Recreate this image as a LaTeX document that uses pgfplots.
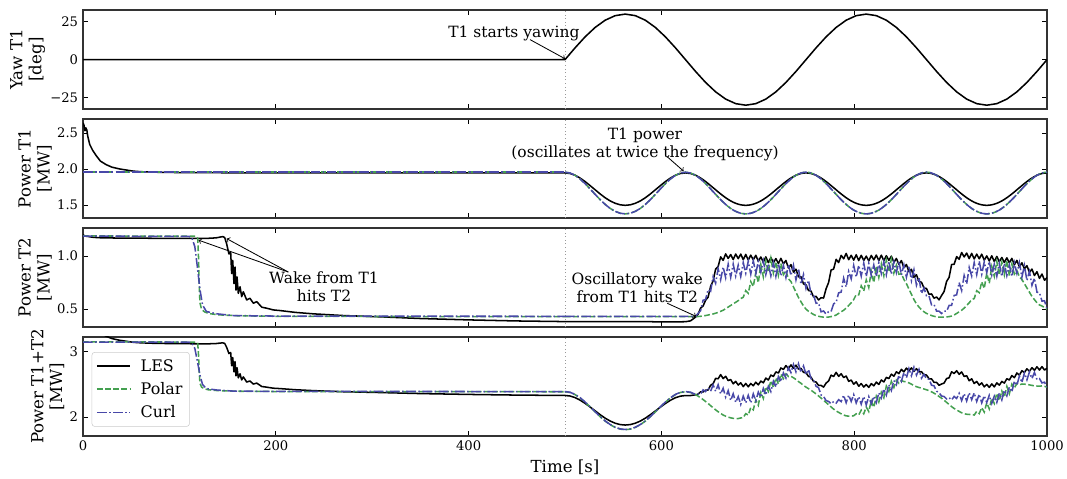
\documentclass[border=0pt]{standalone}
\usepackage{fontspec}
\setmainfont{DejaVu Serif}
\usepackage{pgfplots}
\usepackage{pgfplotstable}
\pgfplotsset{compat=1.18}
\definecolor{cpolar}{RGB}{68,160,80}
\definecolor{ccurl}{RGB}{72,72,168}

\pgfplotstableread{
t yaw
0 0
500 0
510.42 7.765
520.83 15.0
531.25 21.213
541.67 25.981
552.08 28.978
562.50 30
572.92 28.978
583.33 25.981
593.75 21.213
604.17 15.0
614.58 7.765
625.00 0
635.42 -7.765
645.83 -15
656.25 -21.213
666.67 -25.981
677.08 -28.978
687.50 -30
697.92 -28.978
708.33 -25.981
718.75 -21.213
729.17 -15
739.58 -7.765
750.00 0
760.42 7.765
770.83 15
781.25 21.213
791.67 25.981
802.08 28.978
812.50 30
822.92 28.978
833.33 25.981
843.75 21.213
854.17 15
864.58 7.765
875.00 0
885.42 -7.765
895.83 -15
906.25 -21.213
916.67 -25.981
927.08 -28.978
937.50 -30
947.92 -28.978
958.33 -25.981
968.75 -21.213
979.17 -15
989.58 -7.765
1000 0
}\tabYaw

\pgfplotstableread{
t p1 p2
0 2.64 1.200
1 2.61 1.195
2 2.53 1.190
3 2.57 1.188
4 2.54 1.186
5 2.45 1.185
7 2.34 1.182
10 2.26 1.178
14 2.18 1.175
18 2.11 1.173
24 2.06 1.172
30 2.025 1.171
38 2.00 1.170
45 1.985 1.170
52 1.97 1.169
60 1.962 1.169
75 1.955 1.168
100 1.950 1.168
130 1.948 1.168
138 1.948 1.172
142 1.948 1.179
145 1.947 1.184
147 1.947 1.175
149 1.947 1.116
151.4 1.947 1.020
153.2 1.947 1.037
154.2 1.947 0.836
155.3 1.947 0.960
156.6 1.947 0.742
157.7 1.947 0.897
158.7 1.947 0.680
159.8 1.947 0.804
161.1 1.947 0.649
162.9 1.947 0.711
164.6 1.947 0.618
166.3 1.947 0.664
169.8 1.946 0.587
173.2 1.946 0.603
176.7 1.946 0.556
180.2 1.946 0.571
185.4 1.946 0.519
190.5 1.946 0.509
197.4 1.946 0.493
204.4 1.946 0.487
220 1.946 0.470
239 1.946 0.456
270 1.945 0.440
308 1.945 0.428
350 1.945 0.412
400 1.945 0.399
450 1.945 0.389
500 1.945 0.383
}\tabAles

\pgfplotstableread{
t p1 p2
0 1.955 1.190
117 1.955 1.188
119 1.955 1.170
119.8 1.955 1.000
120.5 1.955 0.750
121.3 1.955 0.560
123 1.955 0.500
126 1.955 0.475
130 1.955 0.460
140 1.955 0.447
160 1.955 0.438
200 1.955 0.433
300 1.955 0.431
500 1.955 0.430
}\tabApol

\pgfplotstableread{
t p1 p2
0 1.955 1.188
110 1.955 1.186
113 1.955 1.170
116 1.955 1.090
118.6 1.955 0.900
121.4 1.955 0.680
124 1.955 0.540
128 1.955 0.478
139 1.955 0.456
156 1.955 0.440
200 1.955 0.435
300 1.955 0.434
500 1.955 0.433
}\tabAcrl

\pgfplotstableread{
t p1les p1mod p2les p2pol p2curl
500.00 1.945 1.955 0.383 0.430 0.433
505.21 1.937 1.944 0.383 0.430 0.433
510.42 1.913 1.912 0.383 0.430 0.433
515.63 1.874 1.861 0.383 0.430 0.433
520.83 1.825 1.796 0.383 0.430 0.433
526.04 1.769 1.723 0.383 0.430 0.433
531.25 1.711 1.647 0.383 0.430 0.433
536.46 1.653 1.574 0.382 0.430 0.433
541.67 1.600 1.507 0.382 0.430 0.433
546.88 1.556 1.452 0.382 0.430 0.433
552.08 1.523 1.411 0.382 0.430 0.433
557.29 1.502 1.385 0.382 0.430 0.433
562.50 1.495 1.376 0.382 0.430 0.433
567.71 1.502 1.385 0.382 0.430 0.433
572.92 1.523 1.411 0.382 0.430 0.433
578.13 1.556 1.452 0.382 0.430 0.433
583.33 1.600 1.507 0.382 0.430 0.433
588.54 1.653 1.574 0.382 0.430 0.433
593.75 1.711 1.647 0.381 0.430 0.433
598.96 1.769 1.723 0.381 0.430 0.433
604.17 1.825 1.796 0.381 0.430 0.433
609.38 1.874 1.861 0.381 0.430 0.433
614.58 1.913 1.912 0.381 0.430 0.433
619.79 1.937 1.944 0.381 0.430 0.433
625.00 1.945 1.955 0.382 0.430 0.433
630.21 1.937 1.944 0.390 0.430 0.433
635.42 1.913 1.912 0.425 0.430 0.433
638.02 1.895 1.888 0.452 0.431 0.460
640.63 1.874 1.861 0.510 0.433 0.485
643.23 1.851 1.830 0.530 0.436 0.584
645.83 1.825 1.796 0.584 0.440 0.591
648.44 1.798 1.761 0.613 0.445 0.685
651.04 1.769 1.723 0.715 0.450 0.669
653.65 1.740 1.685 0.768 0.455 0.806
656.25 1.711 1.647 0.878 0.462 0.744
658.85 1.681 1.610 0.902 0.470 0.882
661.46 1.653 1.574 0.993 0.480 0.777
664.06 1.626 1.540 0.960 0.490 0.898
666.67 1.600 1.507 1.021 0.505 0.796
669.27 1.577 1.478 0.978 0.520 0.924
671.88 1.556 1.452 1.015 0.535 0.800
674.48 1.538 1.429 0.968 0.550 0.925
677.08 1.523 1.411 1.020 0.565 0.812
679.69 1.511 1.396 0.976 0.580 0.915
682.29 1.502 1.385 1.019 0.600 0.808
684.90 1.497 1.379 0.966 0.612 0.939
687.50 1.495 1.376 1.016 0.675 0.839
690.10 1.497 1.379 0.963 0.650 0.952
692.71 1.502 1.385 1.009 0.760 0.830
695.31 1.511 1.396 0.965 0.714 0.957
697.92 1.523 1.411 1.008 0.847 0.835
700.52 1.538 1.429 0.952 0.750 0.951
703.13 1.556 1.452 0.992 0.920 0.850
705.73 1.577 1.478 0.944 0.804 0.957
708.33 1.600 1.507 0.993 0.952 0.827
710.94 1.626 1.540 0.938 0.850 0.927
713.54 1.653 1.574 0.987 0.980 0.814
716.15 1.681 1.610 0.937 0.841 0.936
718.75 1.711 1.647 0.977 0.948 0.809
721.35 1.740 1.685 0.930 0.819 0.931
723.96 1.769 1.723 0.979 0.930 0.814
726.56 1.798 1.761 0.927 0.825 0.912
729.17 1.825 1.796 0.959 0.861 0.798
731.77 1.851 1.830 0.888 0.787 0.923
734.38 1.874 1.861 0.920 0.760 0.817
736.98 1.895 1.888 0.849 0.710 0.914
739.58 1.913 1.912 0.877 0.660 0.776
742.19 1.926 1.930 0.805 0.610 0.882
744.79 1.937 1.944 0.805 0.570 0.735
747.40 1.943 1.952 0.738 0.530 0.826
750.00 1.945 1.955 0.729 0.500 0.695
752.60 1.943 1.952 0.676 0.480 0.772
755.21 1.937 1.944 0.671 0.465 0.640
757.81 1.926 1.930 0.615 0.450 0.635
760.42 1.913 1.912 0.621 0.440 0.556
763.02 1.895 1.888 0.587 0.433 0.559
765.63 1.874 1.861 0.608 0.428 0.475
768.23 1.851 1.830 0.605 0.425 0.483
770.83 1.825 1.796 0.692 0.425 0.454
773.44 1.798 1.761 0.751 0.426 0.476
776.04 1.769 1.723 0.869 0.430 0.478
778.65 1.740 1.685 0.878 0.435 0.550
781.25 1.711 1.647 0.970 0.445 0.565
783.85 1.681 1.610 0.939 0.460 0.654
786.46 1.653 1.574 1.007 0.475 0.661
789.06 1.626 1.540 0.975 0.490 0.792
791.67 1.600 1.507 1.025 0.510 0.710
794.27 1.577 1.478 0.966 0.535 0.856
796.88 1.556 1.452 1.008 0.560 0.785
799.48 1.538 1.429 0.962 0.590 0.912
802.08 1.523 1.411 1.013 0.638 0.802
804.69 1.511 1.396 0.958 0.635 0.913
807.29 1.502 1.385 1.008 0.720 0.811
809.90 1.497 1.379 0.959 0.670 0.934
812.50 1.495 1.376 1.000 0.776 0.808
815.10 1.497 1.379 0.954 0.704 0.931
817.71 1.502 1.385 1.007 0.860 0.816
820.31 1.511 1.396 0.964 0.750 0.917
822.92 1.523 1.411 1.010 0.906 0.808
825.52 1.538 1.429 0.958 0.798 0.938
828.13 1.556 1.452 1.009 0.925 0.837
830.73 1.577 1.478 0.957 0.815 0.949
833.33 1.600 1.507 1.004 0.964 0.826
835.94 1.626 1.540 0.960 0.852 0.952
838.54 1.653 1.574 1.000 0.971 0.830
841.15 1.681 1.610 0.941 0.840 0.946
843.75 1.711 1.647 0.978 0.915 0.845
846.35 1.740 1.685 0.922 0.829 0.952
848.96 1.769 1.723 0.958 0.834 0.822
851.56 1.798 1.761 0.890 0.780 0.918
854.17 1.825 1.796 0.921 0.740 0.801
856.77 1.851 1.830 0.853 0.690 0.909
859.38 1.874 1.861 0.875 0.640 0.768
861.98 1.895 1.888 0.800 0.590 0.871
864.58 1.913 1.912 0.824 0.550 0.726
867.19 1.926 1.930 0.761 0.520 0.797
869.79 1.937 1.944 0.754 0.495 0.648
872.40 1.943 1.952 0.699 0.475 0.700
875.00 1.945 1.955 0.695 0.460 0.625
877.60 1.943 1.952 0.640 0.450 0.624
880.21 1.937 1.944 0.644 0.440 0.541
882.81 1.926 1.930 0.603 0.433 0.545
885.42 1.913 1.912 0.615 0.428 0.482
888.02 1.895 1.888 0.588 0.425 0.481
890.63 1.874 1.861 0.629 0.425 0.459
893.23 1.851 1.830 0.666 0.425 0.482
895.83 1.825 1.796 0.761 0.427 0.480
898.44 1.798 1.761 0.800 0.430 0.535
901.04 1.769 1.723 0.921 0.435 0.536
903.65 1.740 1.685 0.923 0.445 0.629
906.25 1.711 1.647 0.995 0.460 0.635
908.85 1.681 1.610 0.970 0.475 0.751
911.46 1.653 1.574 1.034 0.490 0.676
914.06 1.626 1.540 0.992 0.510 0.817
916.67 1.600 1.507 1.029 0.535 0.738
919.27 1.577 1.478 0.976 0.560 0.893
921.88 1.556 1.452 1.026 0.590 0.812
924.48 1.538 1.429 0.973 0.600 0.939
927.08 1.523 1.411 1.019 0.674 0.826
929.69 1.511 1.396 0.975 0.656 0.952
932.29 1.502 1.385 1.018 0.758 0.830
934.90 1.497 1.379 0.962 0.695 0.946
937.50 1.495 1.376 1.002 0.840 0.845
940.10 1.497 1.379 0.954 0.744 0.952
942.71 1.502 1.385 1.003 0.902 0.822
945.31 1.511 1.396 0.948 0.810 0.923
947.92 1.523 1.411 0.997 0.950 0.811
950.52 1.538 1.429 0.947 0.821 0.934
953.13 1.556 1.452 0.987 0.943 0.808
955.73 1.577 1.478 0.940 0.824 0.931
958.33 1.600 1.507 0.984 0.960 0.816
960.94 1.626 1.540 0.937 0.815 0.917
963.54 1.653 1.574 0.979 0.927 0.808
966.15 1.681 1.610 0.918 0.830 0.938
968.75 1.711 1.647 0.960 0.865 0.837
971.35 1.740 1.685 0.899 0.805 0.939
973.96 1.769 1.723 0.937 0.780 0.801
976.56 1.798 1.761 0.880 0.740 0.912
979.17 1.825 1.796 0.910 0.700 0.770
981.77 1.851 1.830 0.846 0.660 0.856
984.38 1.874 1.861 0.878 0.620 0.725
986.98 1.895 1.888 0.817 0.590 0.792
989.58 1.913 1.912 0.853 0.560 0.660
992.19 1.926 1.930 0.790 0.540 0.655
994.79 1.937 1.944 0.831 0.530 0.576
997.40 1.943 1.952 0.773 0.515 0.579
1000.00 1.945 1.955 0.798 0.500 0.505
}\tabBC

\tikzset{
  ann/.style={font=\fontsize{11.2}{12.6}\selectfont, align=center, inner sep=0pt},
  arr/.style={->, line width=0.6bp, black},
  vline/.style={gray!80, line width=0.6bp, dotted},
}
\pgfplotsset{
  les/.style={black, line width=1.1bp, line join=round},
  pol/.style={cpolar, line width=1.1bp, dash pattern=on 4.1bp off 1.8bp},
  crl/.style={ccurl, line width=1.1bp, dash pattern=on 7bp off 1.8bp on 1.1bp off 1.8bp},
  panel/.style={
    scale only axis, width=694.08bp, height=71.28bp,
    xmin=0, xmax=1000, xtick={0,200,400,600,800,1000},
    anchor=north west,
    tick align=inside,
    major tick length=3.5bp,
    every tick/.style={black, line width=0.6bp},
    axis line style={black!80, line width=0.8bp},
    /pgf/number format/assume math mode=true,
    /pgf/number format/1000 sep={},
    tick label style={font=\fontsize{9.5}{11}\selectfont},
    label style={font=\fontsize{12}{13.7}\selectfont},
    ylabel style={align=center},
    ylabel shift=-3bp,
    no markers,
    enlargelimits=false,
  },
}

\begin{document}
\begin{tikzpicture}
\useasboundingbox (0,0) rectangle (768.24bp,344.88bp);

% Panel 1: yaw
\begin{axis}[panel, at={(59.76bp,337.68bp)}, ymin=-32.5, ymax=32.7,
  ytick={-25,0,25}, yticklabels={−25,0,25}, xticklabels={},
  ylabel={Yaw T1\\{[deg]}}]
\draw[vline] (axis cs:500,-32.5) -- (axis cs:500,32.7);
\addplot[les] table[x=t,y=yaw]{\tabYaw};
\node[ann, anchor=base] at (axis cs:447,14.8) {T1 starts yawing};
\draw[arr] (axis cs:463.7,13.2) -- (axis cs:500,0.6);
\end{axis}

% Panel 2: power T1
\begin{axis}[panel, at={(59.76bp,259.2bp)}, ymin=1.319, ymax=2.694,
  ytick={1.5,2.0,2.5}, yticklabels={1.5,2.0,2.5}, xticklabels={},
  ylabel={Power T1\\{[MW]}}]
\draw[vline] (axis cs:500,1.319) -- (axis cs:500,2.694);
\addplot[les] table[x=t,y=p1]{\tabAles};
\addplot[les] table[x=t,y=p1les]{\tabBC};
\addplot[pol] table[x=t,y=p1]{\tabApol};
\addplot[pol] table[x=t,y=p1mod]{\tabBC};
\addplot[crl] table[x=t,y=p1]{\tabAcrl};
\addplot[crl] table[x=t,y=p1mod]{\tabBC};
\node[ann, anchor=north] at (axis cs:583,2.569) {T1 power\\(oscillates at twice the frequency)};
\draw[arr] (axis cs:606,2.17) -- (axis cs:623,1.97);
\end{axis}

% Panel 3: power T2
\begin{axis}[panel, at={(59.76bp,180.72bp)}, ymin=0.332, ymax=1.265,
  ytick={0.5,1.0}, yticklabels={0.5,1.0}, xticklabels={},
  ylabel={Power T2\\{[MW]}}]
\draw[vline] (axis cs:500,0.332) -- (axis cs:500,1.265);
\addplot[les] table[x=t,y=p2]{\tabAles};
\addplot[les] table[x=t,y=p2les]{\tabBC};
\addplot[pol] table[x=t,y=p2]{\tabApol};
\addplot[pol] table[x=t,y=p2pol]{\tabBC};
\addplot[crl] table[x=t,y=p2]{\tabAcrl};
\addplot[crl] table[x=t,y=p2curl]{\tabBC};
\node[ann, anchor=north] at (axis cs:250,0.851) {Wake from T1\\hits T2};
\draw[arr] (axis cs:213,0.85) -- (axis cs:120,1.15);
\draw[arr] (axis cs:213,0.85) -- (axis cs:149,1.165);
\node[ann, anchor=north] at (axis cs:575,0.842) {Oscillatory wake\\from T1 hits T2};
\draw[arr] (axis cs:606,0.556) -- (axis cs:636,0.432);
\end{axis}

% Panel 4: sum
\begin{axis}[panel, at={(59.76bp,102.24bp)}, ymin=1.71, ymax=3.22,
  ytick={2,3}, yticklabels={2,3},
  xlabel={Time [s]},
  ylabel={Power T1+T2\\{[MW]}},
  legend style={at={(axis description cs:0.009,0.848)}, anchor=north west,
    draw=black!20, rounded corners=2bp, fill=white, fill opacity=0.8, text opacity=1,
    font=\fontsize{11.5}{13}\selectfont, row sep=2.5bp, inner sep=3bp,
    cells={anchor=west},
    /tikz/every odd column/.append style={column sep=5bp}},
  legend image code/.code={\draw[#1] (0bp,0bp) -- (24bp,0bp);}]
\draw[vline] (axis cs:500,1.71) -- (axis cs:500,3.22);
\addplot[les] table[x=t,y expr=\thisrow{p1}+\thisrow{p2}]{\tabAles};
\addlegendentry{LES}
\addplot[les, forget plot] table[x=t,y expr=\thisrow{p1les}+\thisrow{p2les}]{\tabBC};
\addplot[pol] table[x=t,y expr=\thisrow{p1}+\thisrow{p2}]{\tabApol};
\addlegendentry{Polar}
\addplot[pol, forget plot] table[x=t,y expr=\thisrow{p1mod}+\thisrow{p2pol}]{\tabBC};
\addplot[crl] table[x=t,y expr=\thisrow{p1}+\thisrow{p2}]{\tabAcrl};
\addlegendentry{Curl}
\addplot[crl, forget plot] table[x=t,y expr=\thisrow{p1mod}+\thisrow{p2curl}]{\tabBC};
\end{axis}
\end{tikzpicture}
\end{document}
